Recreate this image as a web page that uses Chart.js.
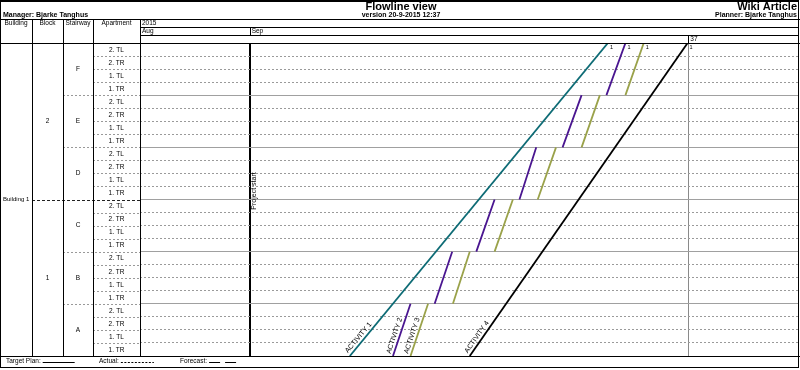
<!DOCTYPE html>
<html>
<head>
<meta charset="utf-8">
<script src="https://cdn.jsdelivr.net/npm/chart.js@4.4.1/dist/chart.umd.min.js"></script>
<style>
html, body { margin: 0; padding: 0; background: #fff; }
canvas { display: block; }
</style>
</head>
<body>
<canvas id="flowline" width="800" height="370"></canvas>
<script>
// rows go from bottom to top
const stairways = ['A', 'B', 'C', 'D', 'E', 'F'];
const blockNames = ['1', '2'];
const apartments = ['1. TR', '1. TL', '2. TR', '2. TL'];
const buildingName = 'Building 1';

// time axis in days from 1 Sep 2015
const yearLabel = '2015';
const monthLabels = ['Aug', 'Sep'];
const monthStarts = [-1.5, 0];
const weekLabels = ['37'];
const weekStarts = [6];
const projectStart = 0;

const activityNames = ['ACTIVITY 1', 'ACTIVITY 2', 'ACTIVITY 3', 'ACTIVITY 4'];
const activityColors = ['#0d6b75', '#4a1690', '#9aa24a', '#000000'];
const crewLabels = ['1', '1', '1', '1'];
// start / finish over all apartments
const activity1 = [1.37, 4.90];
const activity4 = [3.01, 5.99];
// start / finish per stairway
const activity2Start = [1.96, 2.53, 3.10, 3.69, 4.28, 4.88];
const activity2End   = [2.20, 2.77, 3.35, 3.92, 4.54, 5.14];
const activity3Start = [2.20, 2.78, 3.35, 3.94, 4.54, 5.14];
const activity3End   = [2.44, 3.01, 3.60, 4.19, 4.79, 5.39];

const rowsPerStair = apartments.length;
const rowCount = stairways.length * rowsPerStair;
const rowsPerBlock = rowCount / blockNames.length;

function wholeLine(a) {
    return [{ x: a[0], y: 0 }, { x: a[1], y: rowCount }];
}

function perStairway(starts, ends) {
    const pts = [];
    starts.forEach((s, i) => {
        pts.push({ x: s, y: i * rowsPerStair }, { x: ends[i], y: (i + 1) * rowsPerStair });
        if (i < starts.length - 1) pts.push({ x: ends[i], y: null });
    });
    return pts;
}

const lines = [
    wholeLine(activity1),
    perStairway(activity2Start, activity2End),
    perStairway(activity3Start, activity3End),
    wholeLine(activity4)
];

const FONT = '"Liberation Sans", Arial, sans-serif';

function text(ctx, str, x, y, align, font, color) {
    ctx.font = font;
    ctx.textAlign = align || 'left';
    ctx.textBaseline = 'middle';
    ctx.fillStyle = color || '#000';
    ctx.fillText(str, x, y);
    return x + ctx.measureText(str).width;
}

function hline(ctx, x1, x2, y, color, dash) {
    ctx.beginPath();
    ctx.setLineDash(dash || []);
    ctx.strokeStyle = color || '#000';
    const yy = Math.round(y) + 0.5;
    ctx.moveTo(x1, yy);
    ctx.lineTo(x2, yy);
    ctx.stroke();
}

function vline(ctx, x, y1, y2, color, dash) {
    ctx.beginPath();
    ctx.setLineDash(dash || []);
    ctx.strokeStyle = color || '#000';
    const xx = Math.round(x) + 0.5;
    ctx.moveTo(xx, y1);
    ctx.lineTo(xx, y2);
    ctx.stroke();
}

const frame = {
    id: 'frame',
    beforeDraw(chart) {
        const ctx = chart.ctx;
        ctx.save();
        ctx.fillStyle = '#fff';
        ctx.fillRect(0, 0, chart.width, chart.height);
        ctx.restore();
    },
    afterDraw(chart) {
        const ctx = chart.ctx;
        const a = chart.chartArea;
        const xs = chart.scales.x, ys = chart.scales.y;
        const W = chart.width;
        const L = a.left, R = a.right, T = a.top, B = a.bottom;
        const cols = [32, 63, 93];
        const foot = 367;
        ctx.save();
        ctx.lineWidth = 1;

        // left table row lines
        for (let i = 1; i < rowCount; i++) {
            const y = ys.getPixelForValue(i);
            if (i % rowsPerBlock === 0) hline(ctx, cols[0], L, y, '#222', [3, 2]);
            else if (i % rowsPerStair === 0) hline(ctx, cols[1], L, y, '#999', [2, 2]);
            else hline(ctx, cols[2], L, y, '#999', [2, 2]);
        }

        // frame lines
        hline(ctx, 0, W, 19);
        hline(ctx, L, R, 27);
        hline(ctx, L, R, 35);
        hline(ctx, 0, W, T);
        hline(ctx, 0, W, B);
        cols.forEach(c => vline(ctx, c, 19, B));
        vline(ctx, L, 19, B);
        monthStarts.forEach((m, i) => { if (i > 0) vline(ctx, xs.getPixelForValue(m), 27, 35); });
        weekStarts.forEach(w => vline(ctx, xs.getPixelForValue(w), 35, T));
        ctx.setLineDash([]);
        ctx.strokeStyle = '#000';
        ctx.strokeRect(0.5, 0.5, R, foot);
        ctx.fillStyle = '#000';
        ctx.fillRect(0, 0, R + 1, 2);

        // title block
        text(ctx, 'Flowline view', 401, 7, 'center', 'bold 11px ' + FONT);
        text(ctx, 'version 20-9-2015 12:37', 401, 15.5, 'center', 'bold 7px ' + FONT);
        text(ctx, 'Manager: Bjarke Tanghus', 3, 15, 'left', 'bold 7px ' + FONT);
        text(ctx, 'Wiki Article', 797, 7, 'right', 'bold 11px ' + FONT);
        text(ctx, 'Planner: Bjarke Tanghus', 797, 15.5, 'right', 'bold 7px ' + FONT);

        // column headers
        const small = '6.5px ' + FONT;
        text(ctx, 'Building', 16, 23, 'center', small);
        text(ctx, 'Block', 47.5, 23, 'center', small);
        text(ctx, 'Stairway', 78, 23, 'center', small);
        text(ctx, 'Apartment', 116.5, 23, 'center', small);
        text(ctx, yearLabel, L + 2, 23, 'left', small);
        monthLabels.forEach((m, i) => text(ctx, m, xs.getPixelForValue(monthStarts[i]) + 2, 31, 'left', small));
        weekLabels.forEach((w, i) => text(ctx, w, xs.getPixelForValue(weekStarts[i]) + 2, 39, 'left', small));

        // row labels
        for (let i = 0; i < rowCount; i++) {
            text(ctx, apartments[i % rowsPerStair], 116.5, ys.getPixelForValue(i + 0.5) + 0.5, 'center', small);
        }
        stairways.forEach((s, i) => text(ctx, s, 78, ys.getPixelForValue(i * rowsPerStair + rowsPerStair / 2), 'center', small));
        blockNames.forEach((b, i) => text(ctx, b, 47.5, ys.getPixelForValue(i * rowsPerBlock + rowsPerBlock / 2), 'center', small));
        text(ctx, buildingName, 3, ys.getPixelForValue(rowCount / 2), 'left', '6px ' + FONT);

        // project start label
        ctx.save();
        ctx.translate(xs.getPixelForValue(projectStart) + 4, 191);
        ctx.rotate(-Math.PI / 2);
        text(ctx, 'Project start', 0, 0, 'center', '7px ' + FONT);
        ctx.restore();

        // activity labels
        chart.data.datasets.forEach((ds, i) => {
            const pts = chart.getDatasetMeta(i).data;
            const p0 = pts[0], p1 = pts[1], pl = pts[pts.length - 1];
            const ang = Math.atan2(p1.y - p0.y, p1.x - p0.x);
            ctx.save();
            ctx.translate(p0.x, p0.y);
            ctx.rotate(ang);
            ctx.font = '7px ' + FONT;
            ctx.textAlign = 'left';
            ctx.textBaseline = 'bottom';
            ctx.fillStyle = '#000';
            ctx.fillText(activityNames[i], 1, -1.5);
            ctx.restore();
            text(ctx, crewLabels[i], pl.x + 2, pl.y + 4, 'left', '5.5px ' + FONT);
        });

        // footer legend
        const fy = 361.5;
        let end = text(ctx, 'Target Plan:', 6, fy, 'left', small);
        hline(ctx, end + 2, end + 34, fy, '#000');
        end = text(ctx, 'Actual:', 99, fy, 'left', small);
        hline(ctx, end + 2, end + 35, fy, '#000', [2, 1.5]);
        end = text(ctx, 'Forecast:', 180, fy, 'left', small);
        hline(ctx, end + 2, end + 13, fy, '#000');
        hline(ctx, end + 18, end + 29, fy, '#000');
        ctx.restore();
    }
};

new Chart(document.getElementById('flowline'), {
    type: 'line',
    data: {
        datasets: lines.map((pts, i) => ({
            label: activityNames[i],
            data: pts,
            borderColor: activityColors[i],
            borderWidth: 1.8,
            pointRadius: 0,
            fill: false,
            tension: 0,
            spanGaps: false
        }))
    },
    options: {
        responsive: false,
        animation: false,
        devicePixelRatio: 1,
        layout: { padding: { left: 140, top: 43, right: 2, bottom: 14 } },
        plugins: { legend: { display: false }, tooltip: { enabled: false } },
        scales: {
            x: {
                type: 'linear',
                min: monthStarts[0],
                max: 7.5,
                afterBuildTicks: axis => { axis.ticks = [projectStart, ...weekStarts].map(v => ({ value: v })); },
                ticks: { display: false },
                grid: {
                    drawTicks: false,
                    color: c => (c.tick && c.tick.value === projectStart) ? '#000' : '#8a8a8a',
                    lineWidth: c => (c.tick && c.tick.value === projectStart) ? 2 : 1
                },
                border: { display: false }
            },
            y: {
                type: 'linear',
                min: 0,
                max: rowCount,
                afterBuildTicks: axis => { axis.ticks = Array.from({ length: rowCount + 1 }, (_, i) => ({ value: i })); },
                ticks: { display: false },
                grid: { drawTicks: false, color: '#9a9a9a' },
                border: { display: false, dash: [2, 2] }
            },
            yBlock: {
                type: 'linear',
                position: 'left',
                min: 0,
                max: rowCount,
                afterBuildTicks: axis => {
                    axis.ticks = stairways.slice(1).map((_, i) => ({ value: (i + 1) * rowsPerStair }));
                },
                ticks: { display: false },
                grid: { drawTicks: false, color: '#a0a0a0' },
                border: { display: false }
            }
        }
    },
    plugins: [frame]
});
</script>
</body>
</html>
